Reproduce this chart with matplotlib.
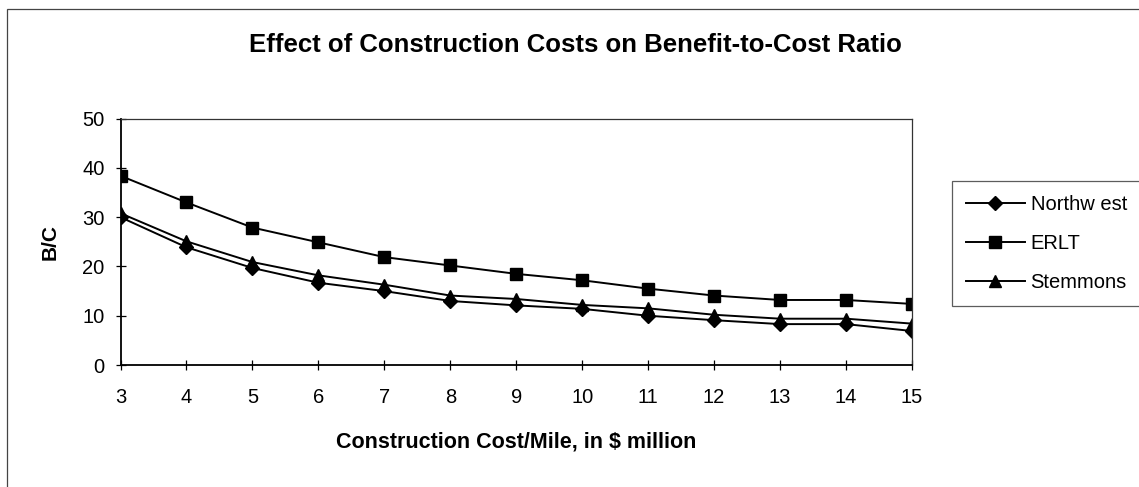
import matplotlib.pyplot as plt
from matplotlib.patches import Rectangle

cost = [3, 4, 5, 6, 7, 8, 9, 10, 11, 12, 13, 14, 15]
northwest = [30.0, 23.9, 19.7, 16.7, 15.0, 13.0, 12.1, 11.4, 10.0, 9.1, 8.3, 8.3, 6.9]
erlt = [38.4, 33.0, 27.9, 24.9, 21.9, 20.2, 18.5, 17.2, 15.5, 14.1, 13.2, 13.2, 12.4]
stemmons = [30.8, 25.1, 20.9, 18.2, 16.3, 14.1, 13.4, 12.2, 11.5, 10.2, 9.4, 9.4, 8.4]

plt.rcParams['font.family'] = ['Liberation Sans', 'DejaVu Sans']

fig = plt.figure(figsize=(11.39, 4.87), dpi=100)
ax = fig.add_axes([0.1058, 0.2505, 0.6949, 0.5058])

# outer chart border
fig.patches.append(Rectangle((7 / 1139, -0.05), 1.1, 1 - 9 / 487 + 0.05,
                             transform=fig.transFigure, fill=False,
                             edgecolor='#444444', linewidth=0.9))

ax.plot(cost, northwest, color='black', lw=1.4, marker='D', ms=7.5, label='Northw est')
ax.plot(cost, erlt, color='black', lw=1.4, marker='s', ms=8.5, label='ERLT')
ax.plot(cost, stemmons, color='black', lw=1.4, marker='^', ms=8.5, label='Stemmons')

ax.set_xlim(3, 15)
ax.set_ylim(0, 50)
ax.set_xticks(cost)
ax.set_yticks(range(0, 51, 10))
ax.tick_params(direction='inout', length=7, width=0.9, labelsize=14.5, pad=8)
ax.tick_params(axis='x', pad=13)
for side in ['left', 'bottom']:
    ax.spines[side].set_linewidth(1.3)
for side in ['top', 'right']:
    ax.spines[side].set_linewidth(0.9)
    ax.spines[side].set_color('#333333')
for lab in ax.get_xticklabels() + ax.get_yticklabels():
    lab.set_clip_on(False)

ax.set_xlabel('Construction Cost/Mile, in $ million', fontsize=15.5,
              fontweight='bold', labelpad=18)
ax.set_ylabel('B/C', fontsize=15, fontweight='bold', labelpad=16)
fig.text(0.505, 0.907, 'Effect of Construction Costs on Benefit-to-Cost Ratio',
         ha='center', va='center', fontsize=18.5, fontweight='bold')

leg = ax.legend(loc='upper left', bbox_to_anchor=(952 / 1139, 1 - 181 / 487),
                bbox_transform=fig.transFigure, fontsize=14.5, frameon=True,
                fancybox=False, edgecolor='#333333', handlelength=2.9,
                handletextpad=0.3, labelspacing=1.0, borderpad=0.7,
                borderaxespad=0)
leg.get_frame().set_linewidth(0.9)

fig.savefig('out.png', dpi=100)
